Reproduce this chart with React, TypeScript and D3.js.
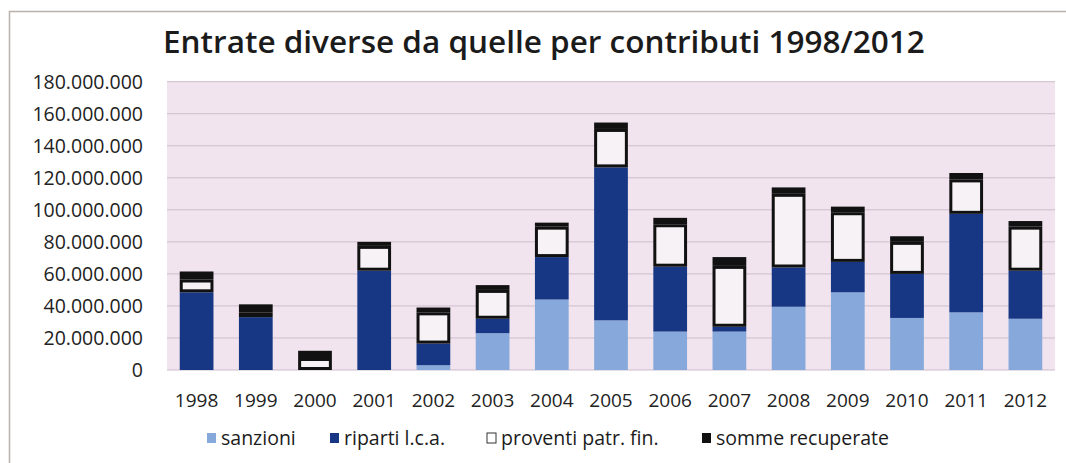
import React, { useEffect, useRef } from 'react';
import * as d3 from 'd3';

// values in millions of euro
const years = ['1998', '1999', '2000', '2001', '2002', '2003', '2004', '2005', '2006', '2007', '2008', '2009', '2010', '2011', '2012'];
const sanzioni = [0, 0, 0, 0, 3, 23, 44, 31, 24, 24, 39.5, 48.5, 32.5, 36, 32];
const riparti = [48.5, 33, 0, 62, 13.5, 9, 26.5, 95.5, 40.5, 3, 24.5, 19, 27.5, 61.5, 30];
const proventi = [8, 3, 7.5, 15.5, 19.5, 18, 19, 24, 26.5, 38, 46, 31, 20, 21.5, 27.5];
const somme = [5, 5, 4.5, 2.5, 3, 3, 2.5, 4, 4, 5.5, 4, 3.5, 3.5, 4, 3.5];

const seriesKeys = ['sanzioni', 'riparti', 'proventi', 'somme'];
const seriesLabels = ['sanzioni', 'riparti l.c.a.', 'proventi patr. fin.', 'somme recuperate'];
const yTicks = [0, 20, 40, 60, 80, 100, 120, 140, 160, 180];

const W = 1066;
const H = 463;

const App: React.FC = () => {
  const svgRef = useRef<SVGSVGElement>(null);

  useEffect(() => {
    if (!svgRef.current) return;
    const svg = d3.select(svgRef.current);
    svg.selectAll('*').remove();

    const font = '"Open Sans", sans-serif';
    const left = 167, right = 1055, top = 81.7, bottom = 370;

    const rows = years.map((y, i) => ({
      year: y,
      sanzioni: sanzioni[i],
      riparti: riparti[i],
      proventi: proventi[i],
      somme: somme[i],
    }));

    const x = d3.scaleBand<string>().domain(years).range([left, right])
      .paddingInner(0.43).paddingOuter(0.215);
    const y = d3.scaleLinear().domain([0, 180]).range([bottom, top]);

    const it = d3.formatLocale({ decimal: ',', thousands: '.', grouping: [3], currency: ['€', ''] });
    const fmt = it.format(',d');

    // outer frame
    svg.append('path')
      .attr('d', `M9.5,${H} L9.5,11.5 L${W},11.5`)
      .attr('fill', 'none')
      .attr('stroke', '#b9b1aa')
      .attr('stroke-width', 1.5);

    // title
    svg.append('text')
      .attr('x', 163)
      .attr('y', 53)
      .style('font-family', font)
      .style('font-size', '31.5px')
      .style('font-weight', 600)
      .style('fill', '#1b1b1b')
      .text('Entrate diverse da quelle per contributi 1998/2012');

    // plot background
    svg.append('rect')
      .attr('x', left).attr('y', top)
      .attr('width', right - left).attr('height', bottom - top)
      .attr('fill', '#f1e4ef');

    // grid
    svg.append('g').selectAll('line')
      .data(yTicks)
      .enter().append('line')
      .attr('x1', left).attr('x2', right)
      .attr('y1', d => y(d)).attr('y2', d => y(d))
      .attr('stroke', '#cdbdcb')
      .attr('stroke-width', 1);

    // y labels
    svg.append('g').selectAll('text')
      .data(yTicks)
      .enter().append('text')
      .attr('x', 143)
      .attr('y', d => y(d))
      .attr('dy', '0.35em')
      .attr('text-anchor', 'end')
      .style('font-family', font)
      .style('font-size', '19.5px')
      .style('fill', '#222')
      .text(d => fmt(d * 1000000));

    // x labels
    svg.append('g').selectAll('text')
      .data(years)
      .enter().append('text')
      .attr('x', d => (x(d) as number) + x.bandwidth() / 2)
      .attr('y', 407)
      .attr('text-anchor', 'middle')
      .style('font-family', font)
      .style('font-size', '19px')
      .style('fill', '#222')
      .text(d => d);

    const stack = d3.stack<any>().keys(seriesKeys);
    const layers = stack(rows);
    const fills = ['#86a8da', '#173784', '#f6f2f6', '#111111'];
    const sw = 3;

    layers.forEach((layer, li) => {
      const g = svg.append('g');
      const rects = g.selectAll('rect')
        .data(layer.filter(d => d[1] - d[0] > 0))
        .enter().append('rect');
      if (seriesKeys[li] === 'proventi') {
        rects
          .attr('x', d => (x(d.data.year) as number) + sw / 2)
          .attr('y', d => y(d[1]) + sw / 2)
          .attr('width', x.bandwidth() - sw)
          .attr('height', d => Math.max(0, y(d[0]) - y(d[1]) - sw))
          .attr('fill', fills[li])
          .attr('stroke', '#111')
          .attr('stroke-width', sw);
      } else {
        rects
          .attr('x', d => x(d.data.year) as number)
          .attr('y', d => y(d[1]))
          .attr('width', x.bandwidth())
          .attr('height', d => y(d[0]) - y(d[1]))
          .attr('fill', fills[li]);
      }
    });

    // legend
    const legendX = [207, 330, 487, 702];
    const legend = svg.append('g');
    seriesLabels.forEach((lab, i) => {
      const lg = legend.append('g').attr('transform', `translate(${legendX[i]},438)`);
      lg.append('rect')
        .attr('x', 0).attr('y', -5)
        .attr('width', 9).attr('height', 10)
        .attr('fill', fills[i] === '#f6f2f6' ? '#fff' : fills[i])
        .attr('stroke', fills[i] === '#f6f2f6' ? '#333' : 'none')
        .attr('stroke-width', 1);
      lg.append('text')
        .attr('x', 14)
        .attr('y', 0)
        .attr('dy', '0.35em')
        .style('font-family', font)
        .style('font-size', '19.5px')
        .style('fill', '#1b1b1b')
        .text(lab);
    });
  }, []);

  return (
    <svg ref={svgRef} width={W} height={H}
      style={{ position: 'absolute', left: 0, top: 0, background: '#fff' }} />
  );
};

export default App;
